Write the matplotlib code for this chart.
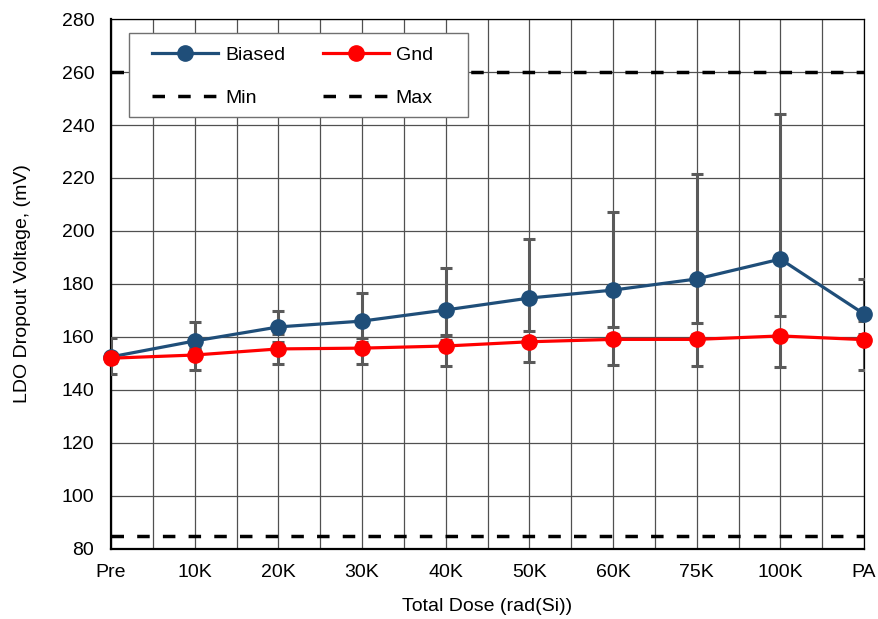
import matplotlib

matplotlib.use("Agg")

import matplotlib.pyplot as plt  # noqa: E402
import numpy as np  # noqa: E402
from matplotlib.patches import Rectangle  # noqa: E402
from matplotlib.ticker import MultipleLocator  # noqa: E402

plt.rcParams["font.family"] = ["Liberation Sans", "DejaVu Sans"]

# data
doses = ["Pre", "10K", "20K", "30K", "40K", "50K", "60K", "75K", "100K", "PA"]

biased = [152.5, 158.5, 163.8, 166.0, 170.2, 174.7, 177.7, 181.9, 189.4, 168.7]
biased_hi = [159.6, 165.7, 169.8, 176.7, 186.0, 197.0, 207.2, 221.5, 244.0, 181.8]
biased_lo = [150.0, 156.0, 161.0, 159.6, 160.8, 162.3, 163.8, 165.4, 167.9, 166.0]

gnd = [152.0, 153.2, 155.5, 155.8, 156.6, 158.2, 159.1, 159.1, 160.4, 159.0]
gnd_hi = [154.0, 155.5, 158.0, 158.0, 159.0, 160.0, 161.0, 161.0, 162.0, 161.0]
gnd_lo = [146.0, 147.5, 149.8, 149.7, 149.0, 150.7, 149.4, 149.2, 148.8, 147.5]

min_limit = 85
max_limit = 260

BLUE = "#1f4e79"
RED = "#ff0000"
ERR = "#5a5a5a"
GRID = "#505050"
FS = 14

x = np.arange(len(doses))

fig = plt.figure(figsize=(8.79, 6.19), dpi=100)
ax = fig.add_axes([0.1263, 0.1131, 0.983 - 0.1263, 0.9693 - 0.1131])

ax.set_xlim(0, len(doses) - 1)
ax.set_ylim(80, 280)
ax.yaxis.set_major_locator(MultipleLocator(20))
ax.set_xticks(x)
ax.set_xticklabels(doses)
ax.xaxis.set_minor_locator(MultipleLocator(0.5))
ax.grid(True, which="both", axis="x", color=GRID, linewidth=0.9)
ax.grid(True, which="major", axis="y", color=GRID, linewidth=0.9)
ax.set_axisbelow(True)
ax.tick_params(which="both", length=0, labelsize=FS)
ax.tick_params(axis="y", pad=12)
ax.tick_params(axis="x", pad=11)

for side in ("left", "bottom"):
    ax.spines[side].set_linewidth(1.6)
for side in ("top", "right"):
    ax.spines[side].set_linewidth(0.9)

dash = (3.6, 3.8)
ax.axhline(min_limit, color="black", lw=2.5, linestyle=(0, dash), label="Min", zorder=2)
ax.axhline(max_limit, color="black", lw=2.5, linestyle=(0, dash), label="Max", zorder=2)

b = np.array(biased)
g = np.array(gnd)
ax.errorbar(x, b, yerr=[b - np.array(biased_lo), np.array(biased_hi) - b],
            fmt="none", ecolor=ERR, elinewidth=2.2, capsize=4.5, capthick=2.2, zorder=3)
ax.errorbar(x, g, yerr=[g - np.array(gnd_lo), np.array(gnd_hi) - g],
            fmt="none", ecolor=ERR, elinewidth=2.2, capsize=4.5, capthick=2.2, zorder=3)

ax.plot(x, biased, color=BLUE, lw=2.3, marker="o", markersize=11, label="Biased",
        zorder=4, clip_on=False)
ax.plot(x, gnd, color=RED, lw=2.3, marker="o", markersize=11, label="Gnd",
        zorder=5, clip_on=False)

# legend box drawn by hand: Excel pads it more sideways than matplotlib does
ax.add_patch(Rectangle((0.0239, 0.815), 0.4502, 0.1586, transform=ax.transAxes,
                       facecolor="white", edgecolor="#707070", linewidth=1.0,
                       zorder=6, clip_on=False))

# ncol=2 fills column-wise: Biased/Min in the first column, Gnd/Max in the second
handles, labels = ax.get_legend_handles_labels()
order = [labels.index(n) for n in ("Biased", "Min", "Gnd", "Max")]
leg = ax.legend([handles[i] for i in order], [labels[i] for i in order],
                ncol=2, loc="upper left", bbox_to_anchor=(0.0544, 0.949),
                fontsize=FS, frameon=False, handlelength=3.4, columnspacing=1.95,
                labelspacing=1.3, borderpad=0, borderaxespad=0,
                handletextpad=0.35)
leg.set_zorder(7)

ax.set_xlabel("Total Dose (rad(Si))", fontsize=FS, labelpad=12)
ax.set_ylabel("LDO Dropout Voltage, (mV)", fontsize=FS, labelpad=22)

fig.savefig("out.png", dpi=100)
